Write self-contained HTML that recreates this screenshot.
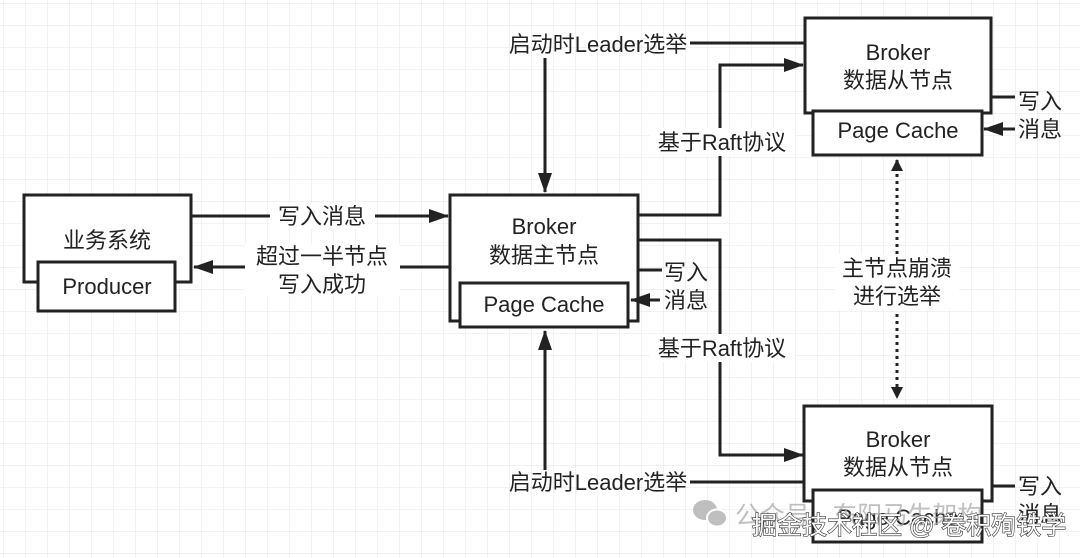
<!DOCTYPE html>
<html><head><meta charset="utf-8"><style>
html,body{margin:0;padding:0;background:#fff;}
svg{display:block;}
text{font-family:"Liberation Sans","Noto Sans CJK SC",sans-serif;font-size:22px;fill:#222;}
</style></head><body>
<svg width="1080" height="558" viewBox="0 0 1080 558" xmlns="http://www.w3.org/2000/svg">
<defs>
<pattern id="g" width="22" height="22" patternUnits="userSpaceOnUse" x="4" y="4">
<path d="M22 0V22H0" fill="none" stroke="#e4e4e4" stroke-width="1"/>
</pattern>
<marker id="a2" viewBox="0 0 20 14" markerWidth="20" markerHeight="14" refX="19" refY="7" orient="auto" markerUnits="userSpaceOnUse">
<path d="M0,0 L20,7 L0,14 z" fill="#222"/>
</marker>
<marker id="a3" viewBox="0 0 12 12" markerWidth="12" markerHeight="12" refX="11" refY="6" orient="auto-start-reverse" markerUnits="userSpaceOnUse">
<path d="M0,0 L12,6 L0,12 z" fill="#222"/>
</marker>
</defs>
<rect width="1080" height="558" fill="url(#g)"/>
<g fill="#fff" stroke="#222" stroke-width="3">
<rect x="24" y="195" width="167" height="87"/>
<rect x="38" y="262" width="137" height="49"/>
<rect x="450" y="195" width="188" height="126"/>
<rect x="460" y="283" width="168" height="44"/>
<rect x="805" y="18" width="186" height="95"/>
<rect x="813" y="111" width="169" height="44"/>
<rect x="804" y="406" width="188" height="95"/>
<rect x="813" y="490" width="169" height="52"/>
</g>
<g fill="none" stroke="#222" stroke-width="3">
<path d="M191 216H448" marker-end="url(#a2)"/>
<path d="M450 267H194" marker-end="url(#a2)"/>
<path d="M545 58V192" marker-end="url(#a2)"/>
<path d="M690 43H805"/>
<path d="M638 215H720V65H803" marker-end="url(#a2)"/>
<path d="M638 240H720V455H803" marker-end="url(#a2)"/>
<path d="M638 270H662"/>
<path d="M660 300H631" marker-end="url(#a2)"/>
<path d="M545 470V331" marker-end="url(#a2)"/>
<path d="M690 482H804"/>
<path d="M991 97H1015"/>
<path d="M1015 129H984" marker-end="url(#a2)"/>
<path d="M992 486H1015"/>
<path d="M897 160V398" stroke-dasharray="3 4" marker-start="url(#a3)" marker-end="url(#a3)"/>
</g>
<g fill="#fff">
<rect x="270" y="203" width="105" height="26"/>
<rect x="245" y="244" width="155" height="52"/>
<rect x="650" y="128" width="145" height="28"/>
<rect x="650" y="334" width="145" height="28"/>
<rect x="835" y="254" width="124" height="56"/>
</g>
<g text-anchor="middle">
<text x="107" y="248">业务系统</text>
<text x="107" y="294">Producer</text>
<text x="322" y="224">写入消息</text>
<text x="322" y="264">超过一半节点</text>
<text x="322" y="292">写入成功</text>
<text x="544" y="234">Broker</text>
<text x="544" y="263">数据主节点</text>
<text x="544" y="312">Page Cache</text>
<text x="686" y="280">写入</text>
<text x="686" y="308">消息</text>
<text x="598" y="52">启动时Leader选举</text>
<text x="598" y="490">启动时Leader选举</text>
<text x="722" y="150">基于Raft协议</text>
<text x="722" y="356">基于Raft协议</text>
<text x="898" y="60">Broker</text>
<text x="898" y="88">数据从节点</text>
<text x="898" y="138">Page Cache</text>
<text x="1040" y="109">写入</text>
<text x="1040" y="137">消息</text>
<text x="897" y="276">主节点崩溃</text>
<text x="897" y="304">进行选举</text>
<text x="898" y="447">Broker</text>
<text x="898" y="475">数据从节点</text>
<text x="1040" y="494">写入</text>
<text x="898" y="525">Page Cache</text>
<text x="1040" y="522">消息</text>
</g>
<g opacity="0.75">
<ellipse cx="705" cy="510" rx="12" ry="10" fill="#aaa"/>
<ellipse cx="717" cy="518" rx="10" ry="8.5" fill="#aaa" stroke="#fff" stroke-width="2"/>
<text x="735" y="524" style="fill:#aaa;font-size:25px">公众号 · 东阳马生架构</text>
</g>
<text x="752" y="534" style="font-size:25px;fill:#fff;stroke:#333;stroke-width:1.2px;paint-order:stroke">掘金技术社区 @ 卷积殉铁学</text>
</svg>
</body></html>
